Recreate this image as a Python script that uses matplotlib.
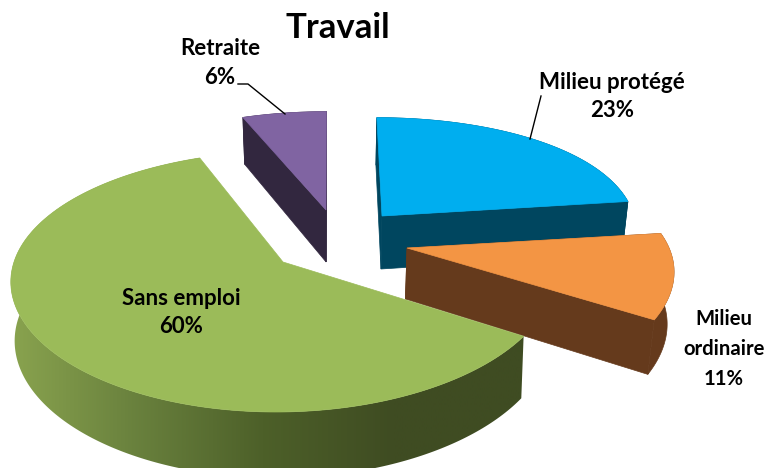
import numpy as np
import matplotlib
matplotlib.use("Agg")
import matplotlib.pyplot as plt
from matplotlib.colors import LinearSegmentedColormap
from matplotlib.patches import Polygon

# ---- data ----
title = "Travail"
categories = ["Milieu protégé", "Milieu ordinaire", "Sans emploi", "Retraite"]
shares = [23, 11, 60, 6]

# ---- style and layout (pixel space of the picture) ----
top_colors = ["#00AEEF", "#F39544", "#9BBB59", "#8064A2"]
side_colors = ["#00465F", "#653A1C", None, "#32273F"]
apex = [(382, 216), (407, 248), (283, 262), (326, 210)]
radius = [252, 262, 269, 250]
depth = [53, 51, 58, 52]
flat = [119, 119, 127.5, 119]
persp_x = [0.11, 0.15, 0.13, 0.11]
persp_y = [0.21, 0.21, 0.15, 0.21]
shrink = [0.02, 0.02, 0.012, 0.02]
draw_order = [0, 3, 1, 2]
VANISH_X, P_D = 330, 0.12
green_side = LinearSegmentedColormap.from_list(
    "g", ["#8CA650", "#6A823E", "#4D6029", "#3F4C22", "#3F4C22"])


def project_xy(X, Y, i, lower=False):
    ax_, ay_ = apex[i]
    x = VANISH_X + (ax_ - VANISH_X + radius[i] * X) / (1 + persp_x[i] * Y)
    y = ay_ - flat[i] * Y / (1 + persp_y[i] * Y)
    if lower:
        x = VANISH_X + (x - VANISH_X) * (1 - shrink[i])
        y = y + depth[i] / (1 + P_D * Y)
    return x, y


def project(theta, i, lower=False):
    return project_xy(np.sin(theta), np.cos(theta), i, lower)


fig = plt.figure(figsize=(7.65, 4.68), dpi=100)
ax = fig.add_axes([0, 0, 1, 1])

edges = np.cumsum([0] + shares) / sum(shares) * 2 * np.pi

for i in draw_order:
    t = np.linspace(edges[i], edges[i + 1], 240)
    xt, yt = project(t, i)
    xb, yb = project(t, i, True)
    cx, cy = project_xy(np.zeros(1), np.zeros(1), i)
    cxb, cyb = project_xy(np.zeros(1), np.zeros(1), i, True)

    if side_colors[i] is not None:
        # both cut faces and the rounded outer face
        for a in (0, -1):
            ax.fill([cx[0], xt[a], xb[a], cxb[0]], [cy[0], yt[a], yb[a], cyb[0]],
                    color=side_colors[i], lw=0.5)
        ax.fill(np.r_[xt, xb[::-1]], np.r_[yt, yb[::-1]],
                color=side_colors[i], lw=0.5)
    else:
        # outer face with a horizontal light-to-dark gradient
        outer = Polygon(np.c_[np.r_[xt, xb[::-1]], np.r_[yt, yb[::-1]]],
                        closed=True, transform=ax.transData)
        img = ax.imshow(np.linspace(0, 1, 512).reshape(1, -1), cmap=green_side,
                        extent=(0, 525, 468, 0), aspect="auto",
                        interpolation="bilinear", zorder=1)
        img.set_clip_path(outer)

    ax.fill(np.r_[cx, xt], np.r_[cy, yt], color=top_colors[i], lw=0.5,
            zorder=2 if i == 2 else 1)

ax.set_xlim(0, 765)
ax.set_ylim(468, 0)
ax.axis("off")

# ---- labels ----
font = dict(family="Lato", weight="bold", color="black", ha="center", va="center",
            zorder=5)
ax.text(338, 28, title, fontsize=25, **font)
ax.text(612, 96.5, f"{categories[0]}\n{shares[0]}%", fontsize=16, linespacing=1.47, **font)
ax.text(724, 349, f"Milieu\nordinaire\n{shares[1]}%", fontsize=14.6, linespacing=1.61, **font)
ax.text(181, 312.5, f"{categories[2]}\n{shares[2]}%", fontsize=16, linespacing=1.47, **font)
ax.text(220, 63, f"{categories[3]}\n{shares[3]}%", fontsize=16, linespacing=1.47, **font)

# ---- leader lines ----
ax.plot([238, 248, 285], [84, 84, 114], color="black", lw=1, zorder=5)
ax.plot([541, 530], [96, 139], color="black", lw=1, zorder=5)

fig.savefig("out.png", dpi=100)
